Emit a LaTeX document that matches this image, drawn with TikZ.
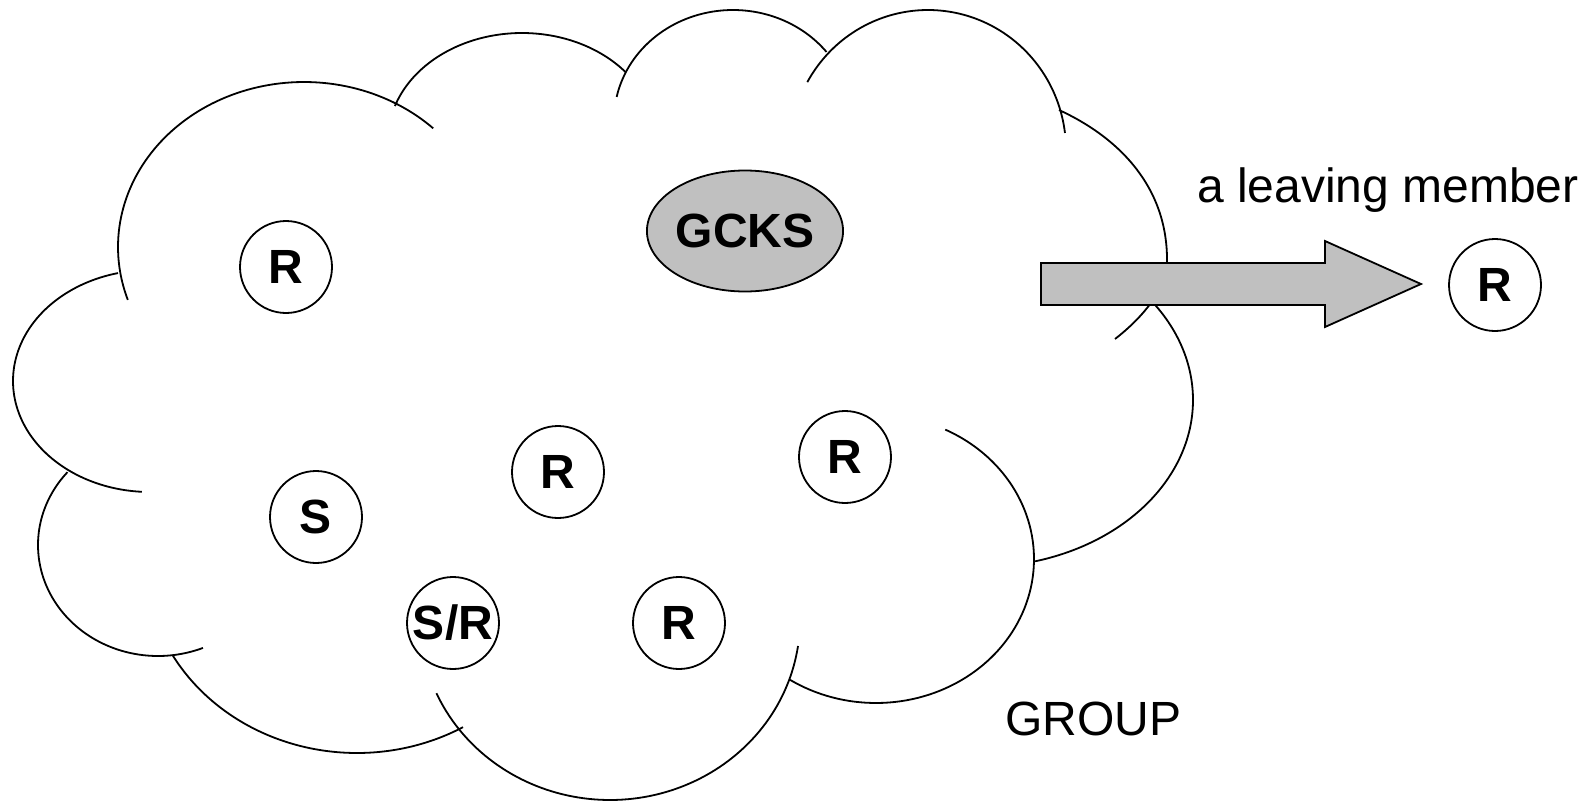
\documentclass[tikz,border=0pt]{standalone}
\usepackage{fontspec}
\setmainfont{Liberation Sans}
\usetikzlibrary{shapes.geometric}
\definecolor{boxgray}{HTML}{C0C0C0}
\newcommand\cloudlobe[6]{\draw[cloudline] plot[domain=#5:#6, samples=90, variable=\t] ({#1+#3*cos(\t)},{#2+#4*sin(\t)});}
\begin{document}
\begin{tikzpicture}[x=1pt,y=-1pt,
  cloudline/.style={line width=1.8pt, line join=round, line cap=butt},
  member/.style={circle, draw, line width=1.8pt, minimum size=92pt, inner sep=0pt, fill=white,
    font=\bfseries\fontsize{48}{50}\selectfont},
  server/.style={ellipse, draw, line width=1.8pt, minimum width=192pt, minimum height=121pt, inner sep=0pt,
    fill=boxgray, font=\bfseries\fontsize{48}{50}\selectfont},
  label/.style={anchor=base west, inner sep=0pt, font=\fontsize{48}{50}\selectfont}]
\useasboundingbox (0,0) rectangle (1590,803);
\fill[white] (0,0) rectangle (1590,803);
% cloud lobes
\cloudlobe{150}{381}{137}{111}{93.4}{256.5}
\cloudlobe{304}{247}{186}{165}{161.3}{314}
\cloudlobe{522}{140}{134}{107}{198.5}{320.5}
\cloudlobe{733}{120}{119}{110}{192.1}{321.8}
\cloudlobe{928}{150}{138}{140}{209}{353}
\draw[cloudline] (1059,110) .. controls (1120,138) and (1168,188) .. (1167,262)
  .. controls (1166,290) and (1142,318) .. (1115,339);
\cloudlobe{980}{400}{213}{167}{-41}{75}
\cloudlobe{876}{559}{158}{144}{-64}{123}
\cloudlobe{610}{620}{190}{180}{8.3}{156}
\cloudlobe{357}{560}{212}{193}{60}{150.5}
\cloudlobe{158}{545}{120}{111}{68}{221}
% leaving arrow
\draw[line width=1.8pt, line join=miter, fill=boxgray]
  (1041,263) -- (1325,263) -- (1325,241) -- (1421,284) -- (1325,327) -- (1325,305) -- (1041,305) -- cycle;
% nodes
\node[server] (gcks) at (745,231) {GCKS};
\node[member] (r1) at (286,267) {R};
\node[member] (s) at (316,517) {S};
\node[member] (r2) at (558,472) {R};
\node[member] (sr) at (453,623) {S/R};
\node[member] (r3) at (679,623) {R};
\node[member] (r4) at (845,457) {R};
\node[member] (rout) at (1495,285) {R};
% labels
\node[label] (leaving) at (1197,202) {a leaving member};
\node[label] (group) at (1005,735) {GROUP};
\end{tikzpicture}
\end{document}
